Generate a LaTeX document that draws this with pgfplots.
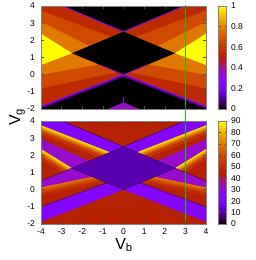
\documentclass[border=0pt]{standalone}
\usepackage{fontspec}
\setmainfont{Liberation Sans}
\usepackage{pgfplots}
\pgfplotsset{compat=1.18}
\pgfplotsset{colormap={gnu}{rgb255=(0,0,0) rgb255=(57,0,79) rgb255=(81,0,150) rgb255=(99,1,206) rgb255=(114,2,243) rgb255=(128,4,255) rgb255=(140,7,243) rgb255=(151,11,206) rgb255=(161,16,150) rgb255=(171,23,79) rgb255=(180,32,0) rgb255=(189,42,0) rgb255=(198,55,0) rgb255=(206,70,0) rgb255=(213,87,0) rgb255=(221,108,0) rgb255=(228,131,0) rgb255=(235,157,0) rgb255=(242,186,0) rgb255=(249,219,0) rgb255=(255,255,0)}}
\definecolor{tDR}{RGB}{189,42,0}
\definecolor{tOR}{RGB}{207,73,0}
\definecolor{tO}{RGB}{225,121,0}
\definecolor{tY}{RGB}{255,255,0}
\definecolor{tP}{RGB}{140,7,243}
\definecolor{tGlow}{RGB}{80,0,140}
\definecolor{bR}{RGB}{182,34,0}
\definecolor{bD}{RGB}{88,0,175}
\definecolor{bBP}{RGB}{132,5,253}
\definecolor{bMP}{RGB}{151,11,206}
\definecolor{bL}{RGB}{60,0,110}
\definecolor{gA}{RGB}{250,225,0}
\definecolor{gB}{RGB}{239,173,0}
\definecolor{gC}{RGB}{228,129,0}
\definecolor{gD}{RGB}{215,93,0}
\definecolor{gE}{RGB}{203,65,0}
\definecolor{gF}{RGB}{189,43,0}
\definecolor{hA}{RGB}{225,119,0}
\definecolor{hB}{RGB}{218,98,0}
\definecolor{hC}{RGB}{210,80,0}
\definecolor{hD}{RGB}{203,64,0}
\definecolor{hE}{RGB}{195,51,0}
\definecolor{hF}{RGB}{186,39,0}
\definecolor{vline}{RGB}{30,185,30}
\pgfplotsset{
  every tick label/.append style={font=\fontsize{8.5}{10}\selectfont},
  panel/.style={
    scale only axis, width=165pt, height=103pt,
    xmin=-4, xmax=4, ymin=-2, ymax=4,
    axis on top,
    xtick={-4,-3,-2,-1,0,1,2,3,4},
    ytick={-2,-1,0,1,2,3,4},
    yticklabels={-2,-1,0,1,2,3,4},
    tick align=inside, major tick length=3pt,
    every tick/.style={black!70, line width=0.4pt},
    axis line style={black!50, line width=0.6pt},
    yticklabel style={xshift=-2.5pt},
    colormap name=gnu,
    colorbar,
    colorbar style={at={(parent axis.north east)}, anchor=north west, xshift=4pt,
      width=8pt, scale only axis, tick align=inside, major tick length=2pt,
      every tick/.style={black!70, line width=0.4pt},
      axis line style={black!50, line width=0.6pt},
      yticklabel style={xshift=1pt}},
  }
}
\begin{document}
\begin{tikzpicture}
% ---------------- TOP PANEL ----------------
\begin{axis}[panel, at={(41pt,-109pt)}, anchor=south west,
  xticklabels={}, clip=false,
  point meta min=0, point meta max=1,
  colorbar style={ytick={0,0.2,0.4,0.6,0.8,1}, yticklabels={0,0.2,0.4,0.6,0.8,1}}]
\addplot[fill=black, draw=none] coordinates {(-4,-2) (4,-2) (4,4) (-4,4)};
% dark red wedges
\addplot[fill=tDR, draw=none] coordinates {(-4,4) (-2.95,4) (0,2.5) (0,0) (-4,-1.85)};
\addplot[fill=tDR, draw=none] coordinates {(4,4) (2.95,4) (0,2.5) (0,0) (4,-1.85)};
% orange-red
\addplot[fill=tOR, draw=none] coordinates {(-4,3.74) (-0.6,2.2) (-0.3,0.15) (-4,-0.8)};
\addplot[fill=tOR, draw=none] coordinates {(4,3.74) (0.6,2.2) (0.3,0.15) (4,-0.8)};
% orange
\addplot[fill=tO, draw=none] coordinates {(-4,3.07) (-1.66,1.67) (-1.2,0.6) (-4,0)};
\addplot[fill=tO, draw=none] coordinates {(4,3.07) (1.66,1.67) (1.2,0.6) (4,0)};
% yellow
\addplot[fill=tY, draw=none] coordinates {(-4,2.39) (-2.5,1.25) (-4,0.56)};
\addplot[fill=tY, draw=none] coordinates {(4,2.39) (2.5,1.25) (4,0.56)};
% diamond
\addplot[fill=black, draw=none] coordinates {(-2.5,1.25) (0,2.5) (2.5,1.25) (0,0)};
% purple edges
\addplot[fill=tGlow, draw=none] coordinates {(-4,-1.85) (0,0) (4,-1.85) (4,-1.98) (0,-0.13) (-4,-1.98)};
\addplot[tP, line width=1pt] coordinates {(-3.98,-1.84) (0,0) (3.98,-1.84)};
\addplot[tP, line width=0.8pt] coordinates {(-2.93,3.99) (0,2.5) (2.93,3.99)};
\addplot[tP, line width=0.6pt] coordinates {(-1.1,0.55) (0,0) (1.1,0.55)};
\addplot[fill=bMP, draw=none] coordinates {(-0.75,-2) (0,-1.62) (0.75,-2)};
\addplot[tP, line width=0.5pt] coordinates {(0,-1.62) (0,-1.3)};
\addplot[vline, line width=0.5pt] coordinates {(3,-2.7) (3,4.05)};
\end{axis}
% ---------------- BOTTOM PANEL ----------------
\begin{axis}[panel, at={(41pt,-224pt)}, anchor=south west,
  xticklabels={-4,-3,-2,-1,0,1,2,3,4},
  xticklabel style={yshift=-1.5pt},
  point meta min=0, point meta max=90,
  colorbar style={ytick={0,10,20,30,40,50,60,70,80,90}, yticklabels={0,10,20,30,40,50,60,70,80,90}}]
\addplot[fill=bR, draw=none] coordinates {(-4,-2) (4,-2) (4,4) (-4,4)};
% bright purple upper bands
\addplot[fill=bBP, draw=none] coordinates {(-4,4) (-2.95,4) (0,2.5) (-0.65,2.175) (-4,3.75)};
\addplot[fill=bBP, draw=none] coordinates {(4,4) (2.95,4) (0,2.5) (0.65,2.175) (4,3.75)};
% gradient below L1 (left)
\addplot[fill=gA, draw=none] coordinates {(-4,3.75) (-0.65,2.175) (-0.65,1.675) (-4,3.25)};
\addplot[fill=gB, draw=none] coordinates {(-4,3.6667) (-0.65,2.0917) (-0.65,1.675) (-4,3.25)};
\addplot[fill=gC, draw=none] coordinates {(-4,3.5833) (-0.65,2.0083) (-0.65,1.675) (-4,3.25)};
\addplot[fill=gD, draw=none] coordinates {(-4,3.5) (-0.65,1.925) (-0.65,1.675) (-4,3.25)};
\addplot[fill=gE, draw=none] coordinates {(-4,3.4167) (-0.65,1.8417) (-0.65,1.675) (-4,3.25)};
\addplot[fill=gF, draw=none] coordinates {(-4,3.3333) (-0.65,1.7583) (-0.65,1.675) (-4,3.25)};
% gradient below L1 (right)
\addplot[fill=gA, draw=none] coordinates {(4,3.75) (0.65,2.175) (0.65,1.675) (4,3.25)};
\addplot[fill=gB, draw=none] coordinates {(4,3.6667) (0.65,2.0917) (0.65,1.675) (4,3.25)};
\addplot[fill=gC, draw=none] coordinates {(4,3.5833) (0.65,2.0083) (0.65,1.675) (4,3.25)};
\addplot[fill=gD, draw=none] coordinates {(4,3.5) (0.65,1.925) (0.65,1.675) (4,3.25)};
\addplot[fill=gE, draw=none] coordinates {(4,3.4167) (0.65,1.8417) (0.65,1.675) (4,3.25)};
\addplot[fill=gF, draw=none] coordinates {(4,3.3333) (0.65,1.7583) (0.65,1.675) (4,3.25)};
% medium purple upper bands
\addplot[fill=bMP, draw=none] coordinates {(-4,2.94) (-1.66,1.67) (-2.5,1.25) (-4,2.37)};
\addplot[fill=bMP, draw=none] coordinates {(4,2.94) (1.66,1.67) (2.5,1.25) (4,2.37)};
% gradient below L3 (left)
\addplot[fill=gA, draw=none] coordinates {(-4,2.37) (-2.5,1.25) (-2.9435,1.0312) (-4,1.82)};
\addplot[fill=gB, draw=none] coordinates {(-4,2.2783) (-2.5739,1.2135) (-2.9435,1.0312) (-4,1.82)};
\addplot[fill=gC, draw=none] coordinates {(-4,2.1867) (-2.6478,1.1770) (-2.9435,1.0312) (-4,1.82)};
\addplot[fill=gD, draw=none] coordinates {(-4,2.095) (-2.7218,1.1406) (-2.9435,1.0312) (-4,1.82)};
\addplot[fill=gE, draw=none] coordinates {(-4,2.0033) (-2.7957,1.1041) (-2.9435,1.0312) (-4,1.82)};
\addplot[fill=gF, draw=none] coordinates {(-4,1.9117) (-2.8696,1.0676) (-2.9435,1.0312) (-4,1.82)};
% gradient below L3 (right)
\addplot[fill=gA, draw=none] coordinates {(4,2.37) (2.5,1.25) (2.9435,1.0312) (4,1.82)};
\addplot[fill=gB, draw=none] coordinates {(4,2.2783) (2.5739,1.2135) (2.9435,1.0312) (4,1.82)};
\addplot[fill=gC, draw=none] coordinates {(4,2.1867) (2.6478,1.1770) (2.9435,1.0312) (4,1.82)};
\addplot[fill=gD, draw=none] coordinates {(4,2.095) (2.7218,1.1406) (2.9435,1.0312) (4,1.82)};
\addplot[fill=gE, draw=none] coordinates {(4,2.0033) (2.7957,1.1041) (2.9435,1.0312) (4,1.82)};
\addplot[fill=gF, draw=none] coordinates {(4,1.9117) (2.8696,1.0676) (2.9435,1.0312) (4,1.82)};
% medium purple lower bands
\addplot[fill=bMP, draw=none] coordinates {(-4,0.51) (-2.5,1.25) (-1.5,0.75) (-4,0.13)};
\addplot[fill=bMP, draw=none] coordinates {(4,0.51) (2.5,1.25) (1.5,0.75) (4,0.13)};
% gradient below M2 (left)
\addplot[fill=hA, draw=none] coordinates {(-4,0.13) (-1.5,0.75) (-0.8984,0.4492) (-4,-0.32)};
\addplot[fill=hB, draw=none] coordinates {(-4,0.055) (-1.3997,0.6999) (-0.8984,0.4492) (-4,-0.32)};
\addplot[fill=hC, draw=none] coordinates {(-4,-0.02) (-1.2995,0.6497) (-0.8984,0.4492) (-4,-0.32)};
\addplot[fill=hD, draw=none] coordinates {(-4,-0.095) (-1.1992,0.5996) (-0.8984,0.4492) (-4,-0.32)};
\addplot[fill=hE, draw=none] coordinates {(-4,-0.17) (-1.0989,0.5494) (-0.8984,0.4492) (-4,-0.32)};
\addplot[fill=hF, draw=none] coordinates {(-4,-0.245) (-0.9987,0.4993) (-0.8984,0.4492) (-4,-0.32)};
% gradient below M2 (right)
\addplot[fill=hA, draw=none] coordinates {(4,0.13) (1.5,0.75) (0.8984,0.4492) (4,-0.32)};
\addplot[fill=hB, draw=none] coordinates {(4,0.055) (1.3997,0.6999) (0.8984,0.4492) (4,-0.32)};
\addplot[fill=hC, draw=none] coordinates {(4,-0.02) (1.2995,0.6497) (0.8984,0.4492) (4,-0.32)};
\addplot[fill=hD, draw=none] coordinates {(4,-0.095) (1.1992,0.5996) (0.8984,0.4492) (4,-0.32)};
\addplot[fill=hE, draw=none] coordinates {(4,-0.17) (1.0989,0.5494) (0.8984,0.4492) (4,-0.32)};
\addplot[fill=hF, draw=none] coordinates {(4,-0.245) (0.9987,0.4993) (0.8984,0.4492) (4,-0.32)};
% bright purple lower bands
\addplot[fill=bBP, draw=none] coordinates {(-4,-1.0) (-0.8,0.4) (0,0) (-4,-1.87)};
\addplot[fill=bBP, draw=none] coordinates {(4,-1.0) (0.8,0.4) (0,0) (4,-1.87)};
% diamond
\addplot[fill=bD, draw=none] coordinates {(-2.5,1.25) (0,2.5) (2.5,1.25) (0,0)};
% dark lines
\addplot[bL, line width=0.6pt] coordinates {(-2.95,4) (0,2.5) (2.95,4)};
\addplot[bL, line width=0.6pt] coordinates {(-2.5,1.25) (0,2.5) (2.5,1.25) (0,0) (-2.5,1.25)};
\addplot[bL, line width=0.5pt] coordinates {(-4,0.51) (-2.5,1.25)};
\addplot[bL, line width=0.5pt] coordinates {(4,0.51) (2.5,1.25)};
\addplot[bL, line width=0.5pt] coordinates {(-4,-1.0) (-0.8,0.4)};
\addplot[bL, line width=0.5pt] coordinates {(4,-1.0) (0.8,0.4)};
\addplot[vline, line width=0.5pt] coordinates {(3,-2) (3,4)};
\end{axis}
\node[rotate=90, font=\fontsize{16}{18}\selectfont] at (17pt,-117pt) {V\textsubscript{g}};
\node[font=\fontsize{16}{18}\selectfont] at (124pt,-245pt) {V\textsubscript{b}};
\pgfresetboundingbox
\path[use as bounding box] (0,0) rectangle (255pt,-260pt);
\end{tikzpicture}
\end{document}
